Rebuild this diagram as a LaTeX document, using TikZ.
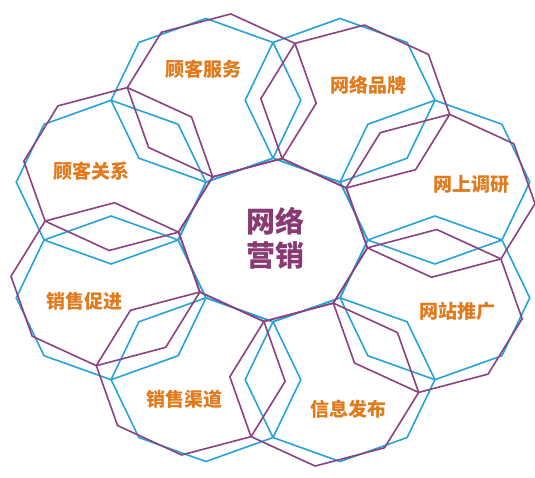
\documentclass[tikz,border=0pt]{standalone}
\usepackage{fontspec}
\newfontfamily\cjk{Noto Sans CJK SC}
\definecolor{cblue}{HTML}{27A3D9}
\definecolor{cpurp}{HTML}{8A4280}
\definecolor{corange}{HTML}{E07A1C}
\definecolor{ctext}{HTML}{8A3A73}
\newcommand\Rad{93}
\newcommand\Dist{171.8}
% #1 style, #2 rotation of vertices
\newcommand\octring[2]{%
  \draw[#1] ({\Rad*cos(#2)},{\Rad*sin(#2)})
    \foreach \k in {1,...,7}{ -- ({\Rad*cos(#2+45*\k)},{\Rad*sin(#2+45*\k)})} -- cycle;
  \foreach \j in {0,...,7}{
    \draw[#1] ({\Dist*cos(#2+22.5+45*\j)+\Rad*cos(#2)},{\Dist*sin(#2+22.5+45*\j)+\Rad*sin(#2)})
      \foreach \k in {1,...,7}{ -- ({\Dist*cos(#2+22.5+45*\j)+\Rad*cos(#2+45*\k)},{\Dist*sin(#2+22.5+45*\j)+\Rad*sin(#2+45*\k)})} -- cycle;
  }%
}
\tikzset{
  blueline/.style={draw=cblue, line width=1.6pt, line join=miter},
  purpline/.style={draw=cpurp, line width=1.6pt, line join=miter},
  lab/.style={font=\cjk\bfseries\fontsize{19}{19}\selectfont, text=corange, inner sep=0pt},
  ctr/.style={font=\cjk\bfseries\fontsize{29}{34}\selectfont, text=ctext, inner sep=0pt, align=center}
}
\begin{document}
\begin{tikzpicture}[x=1pt,y=-1pt]
\fill[white] (0,0) rectangle (535,478);
\useasboundingbox (0,0) rectangle (535,478);
\begin{scope}[shift={(273,240)}, xscale=1.02, yscale=-0.88]
  \octring{blueline}{0}
  \octring{purpline}{-5.5}
\end{scope}
\node[ctr] (c) at (275,238) {网络\\营销};
\node[lab] (l1) at (203,69) {顾客服务};
\node[lab] (l2) at (368,85) {网络品牌};
\node[lab] (l3) at (471,184) {网上调研};
\node[lab] (l4) at (457,311) {网站推广};
\node[lab] (l5) at (348,409) {信息发布};
\node[lab] (l6) at (184,399) {销售渠道};
\node[lab] (l7) at (84,301) {销售促进};
\node[lab] (l8) at (91,171) {顾客关系};
\end{tikzpicture}
\end{document}
